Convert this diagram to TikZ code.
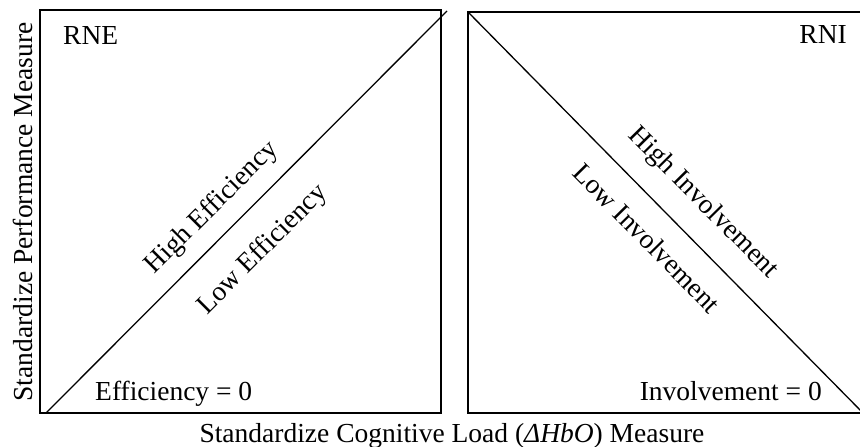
\documentclass[tikz,border=0pt]{standalone}
\usepackage{fontspec}
\setmainfont{Liberation Serif}
\begin{document}
\begin{tikzpicture}[x=1pt,y=-1pt,
  boxline/.style={line width=1.7pt},
  diag/.style={line width=1.3pt},
  lbl/.style={font=\fontsize{27.5}{31}\selectfont, inner sep=0pt}]
\useasboundingbox (0,0) rectangle (860,447);
% left panel
\coordinate (L1) at (40,10);
\coordinate (L2) at (441,413);
\coordinate (LA) at (46,413);
\coordinate (LB) at (447,11);
\draw[boxline] (L1) rectangle (L2);
\draw[diag] (LA) -- (LB);
% right panel
\coordinate (R1) at (468,12);
\coordinate (R2) at (863,413);
\coordinate (RA) at (468,12);
\coordinate (RB) at (864,414);
\draw[boxline] (R1) rectangle (R2);
\draw[diag] (RA) -- (RB);
% labels
\node[lbl, anchor=base west] (rne) at (63,44) {RNE};
\node[lbl, anchor=base east] (rni) at (847,43) {RNI};
\node[lbl, rotate=45] (hie) at (212,208) {High Efficiency};
\node[lbl, rotate=45] (loe) at (263,250) {Low Efficiency};
\node[lbl, rotate=-45.4] (hii) at (703,203) {High Involvement};
\node[lbl, rotate=-45.4] (loi) at (647,238) {Low Involvement};
\node[lbl, anchor=base west] (eff0) at (95,400) {Efficiency = 0};
\node[lbl, anchor=base east] (inv0) at (822,400) {Involvement = 0};
\node[lbl, rotate=90, anchor=base] (ylab) at (32,212) {Standardize Performance Measure};
\node[lbl, anchor=base] (xlab) at (452,442) {Standardize Cognitive Load (\textit{ΔHbO}) Measure};
\end{tikzpicture}
\end{document}
